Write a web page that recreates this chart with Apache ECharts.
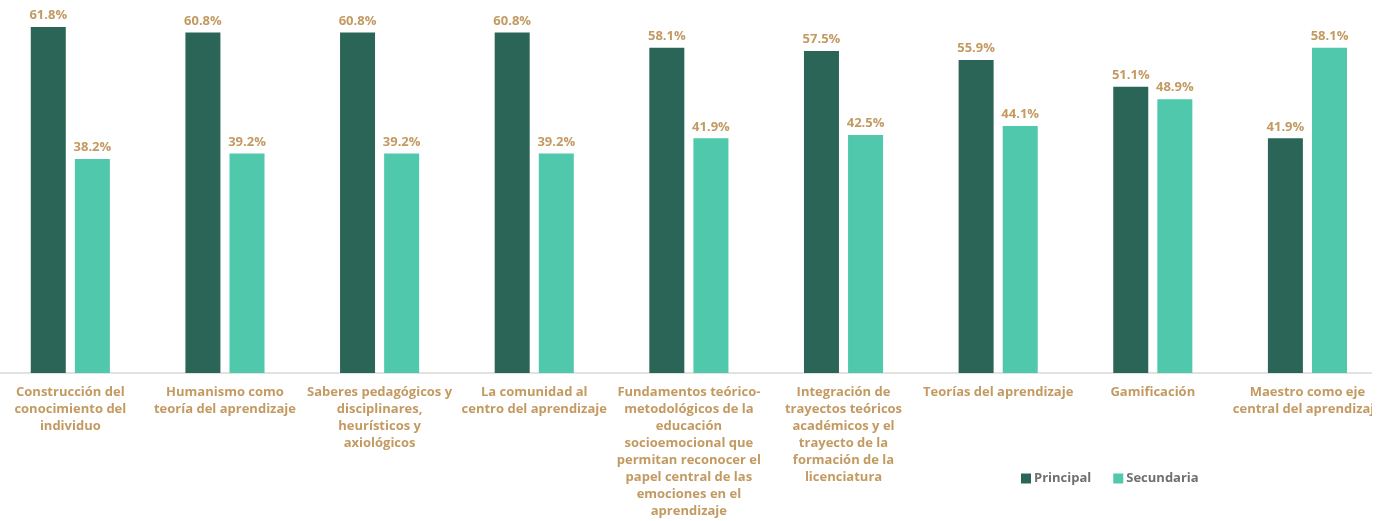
<!DOCTYPE html>
<html><head><meta charset="utf-8">
<script src="https://cdn.jsdelivr.net/npm/echarts@6/dist/echarts.min.js"></script>
<style>html,body{margin:0;padding:0;background:#fff;overflow:hidden}
#w{width:1372px;height:521px;overflow:hidden;position:relative}
#c{width:1392px;height:521px;position:absolute;left:-7px;top:0}</style>
</head><body><div id="w"><div id="c"></div></div>
<script>
const categories = [
  "Construcción del\nconocimiento del\nindividuo",
  "Humanismo como\nteoría del aprendizaje",
  "Saberes pedagógicos y\ndisciplinares,\nheurísticos y\naxiológicos",
  "La comunidad al\ncentro del aprendizaje",
  "Fundamentos teórico-\nmetodológicos de la\neducación\nsocioemocional que\npermitan reconocer el\npapel central de las\nemociones en el\naprendizaje",
  "Integración de\ntrayectos teóricos\nacadémicos y el\ntrayecto de la\nformación de la\nlicenciatura",
  "Teorías del aprendizaje",
  "Gamificación",
  "Maestro como eje\ncentral del aprendizaje"
];
const principal = [61.8, 60.8, 60.8, 60.8, 58.1, 57.5, 55.9, 51.1, 41.9];
const secundaria = [38.2, 39.2, 39.2, 39.2, 41.9, 42.5, 44.1, 48.9, 58.1];

const labelColor = '#c39a62';
const font = "'Open Sans', 'Noto Sans', sans-serif";
const chart = echarts.init(document.getElementById('c'));
const valLabel = {
  show: true, position: 'top', distance: 5,
  color: labelColor, fontWeight: 'bold', fontSize: 13, fontFamily: font,
  formatter: p => p.value.toFixed(1) + '%'
};
chart.setOption({
  animation: false,
  grid: { left: 0, right: 0, top: 9, bottom: 148, containLabel: false },
  legend: {
    left: 1023, top: 467, itemWidth: 10, itemHeight: 10, itemGap: 22,
    icon: 'rect',
    textStyle: { color: '#6f6f6f', fontWeight: 'bold', fontSize: 13, fontFamily: font, padding: [0,0,0,-2] },
    data: ['Principal', 'Secundaria']
  },
  xAxis: {
    type: 'category', data: categories,
    axisLine: { lineStyle: { color: '#e2e2e2', width: 2 } },
    axisTick: { show: false },
    axisLabel: {
      interval: 0, color: labelColor, fontWeight: 'bold', fontSize: 13,
      fontFamily: font, lineHeight: 17, margin: 11
    }
  },
  yAxis: { type: 'value', min: 0, max: 65, show: false, splitLine: { show: false } },
  series: [
    { name: 'Principal', type: 'bar', data: principal, barWidth: 35, barGap: '26%',
      itemStyle: { color: '#2a6557' }, label: valLabel },
    { name: 'Secundaria', type: 'bar', data: secundaria, barWidth: 35,
      itemStyle: { color: '#4fc8ab' }, label: valLabel }
  ]
});
</script></body></html>
